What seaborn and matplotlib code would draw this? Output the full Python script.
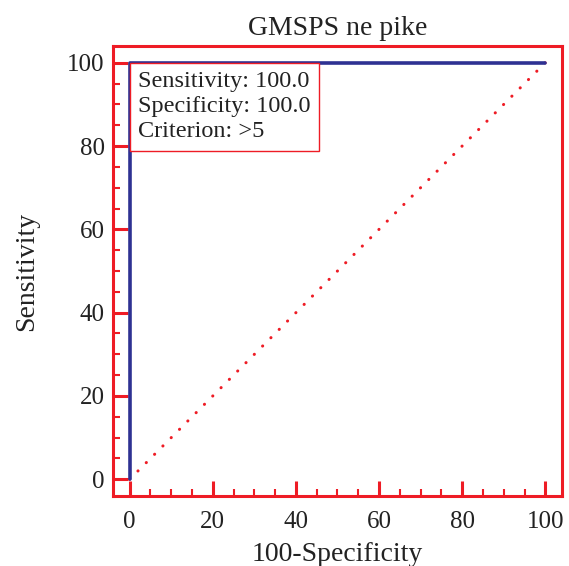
import matplotlib
matplotlib.use("Agg")
import matplotlib.pyplot as plt
import seaborn as sns

# ROC points
fpr = [0, 0, 100]
tpr = [0, 100, 100]
ref_x = [0, 100]
ref_y = [0, 100]
title = "GMSPS ne pike"
info = ["Sensitivity: 100.0", "Specificity: 100.0", "Criterion: >5"]

RED = "#ee1c25"
BLUE = "#2e3192"
INK = "#222222"

sns.set_style("ticks")
plt.rcParams["font.family"] = ["Liberation Serif", "DejaVu Serif"]

fig = plt.figure(figsize=(5.69, 5.66), dpi=100)
ax = fig.add_axes([0.1986, 0.1237, 0.789, 0.795])

sns.lineplot(x=ref_x, y=ref_y, ax=ax, color=RED, lw=2.2,
             linestyle=(0, (0.05, 3.8)), dash_capstyle="round")
sns.lineplot(x=fpr, y=tpr, ax=ax, color=BLUE, lw=2.6, sort=False, estimator=None)

ax.set_xlim(-4, 104)
ax.set_ylim(-4, 104)
ax.set_xticks(range(0, 101, 20))
ax.set_yticks(range(0, 101, 20))
ax.set_xticks(range(0, 101, 5), minor=True)
ax.set_yticks(range(0, 101, 5), minor=True)
ax.tick_params(which="major", direction="in", length=11, width=2.2, color=RED,
               labelsize=18, labelcolor=INK)
ax.tick_params(axis="x", which="major", pad=11)
ax.tick_params(axis="y", which="major", pad=6)
ax.tick_params(which="minor", direction="in", length=5, width=1.5, color=RED)
for s in ax.spines.values():
    s.set_color(RED)
    s.set_linewidth(2.2)

ax.set_title(title, fontsize=20, color=INK, pad=8)
ax.set_xlabel("100-Specificity", fontsize=20, color=INK, labelpad=6)
ax.set_ylabel("Sensitivity", fontsize=20, color=INK, labelpad=20)

fs = 17.5
pad = 0.35
ax.annotate("\n".join(info), xy=(0, 100), xycoords="data",
            xytext=(pad * fs, -pad * fs), textcoords="offset points",
            ha="left", va="top", fontsize=fs, color=INK, linespacing=1.25,
            bbox=dict(boxstyle=f"square,pad={pad}", fc="white", ec=RED, lw=1))

fig.savefig("out.png", dpi=100)
